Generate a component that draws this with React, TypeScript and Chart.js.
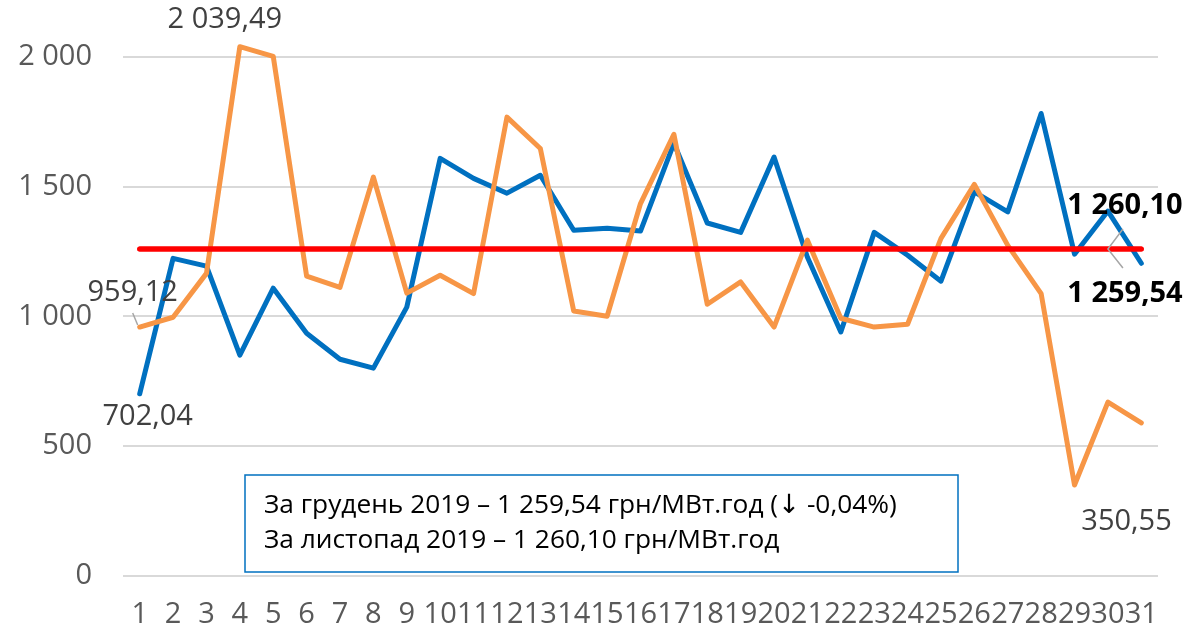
import React, { useEffect, useRef } from "react";
import { Chart, registerables } from "chart.js";

Chart.register(...registerables);

const days = ["1","2","3","4","5","6","7","8","9","10","11","12","13","14","15","16","17","18","19","20","21","22","23","24","25","26","27","28","29","30","31"];

const seriesBlue = [702.04, 1224, 1194, 851, 1109, 935, 835, 801, 1036, 1609, 1532, 1475, 1544, 1332, 1340, 1329, 1667, 1360, 1324, 1614, 1228, 940, 1324, 1236, 1136, 1480, 1403, 1782, 1240, 1406, 1205];

const seriesOrange = [959.12, 997, 1166, 2039.49, 2002, 1155, 1112, 1537, 1090, 1159, 1088, 1768, 1647, 1021, 1001, 1435, 1702, 1047, 1133, 959, 1294, 993, 959, 970, 1301, 1509, 1274, 1088, 350.55, 670, 590];

const avgNovember = [1260.10, 1260.10, 1260.10, 1260.10, 1260.10, 1260.10, 1260.10, 1260.10, 1260.10, 1260.10, 1260.10, 1260.10, 1260.10, 1260.10, 1260.10, 1260.10, 1260.10, 1260.10, 1260.10, 1260.10, 1260.10, 1260.10, 1260.10, 1260.10, 1260.10, 1260.10, 1260.10, 1260.10, 1260.10, 1260.10, 1260.10];

const avgDecember = [1259.54, 1259.54, 1259.54, 1259.54, 1259.54, 1259.54, 1259.54, 1259.54, 1259.54, 1259.54, 1259.54, 1259.54, 1259.54, 1259.54, 1259.54, 1259.54, 1259.54, 1259.54, 1259.54, 1259.54, 1259.54, 1259.54, 1259.54, 1259.54, 1259.54, 1259.54, 1259.54, 1259.54, 1259.54, 1259.54, 1259.54];

const yTicks = [0, 500, 1000, 1500, 2000];

const boxLines = [
  "За грудень 2019 – 1 259,54 грн/МВт.год (↓ -0,04%)",
  "За листопад 2019 – 1 260,10 грн/МВт.год",
];

const FONT = "'Open Sans', 'Noto Sans', 'DejaVu Sans', sans-serif";

function fmt(v: number, decimals: number): string {
  const s = v.toFixed(decimals);
  const [intPart, dec] = s.split(".");
  const withSpaces = intPart.replace(/\B(?=(\d{3})+(?!\d))/g, " ");
  return dec ? withSpaces + "," + dec : withSpaces;
}

const overlayPlugin = {
  id: "overlay",
  afterDatasetsDraw(chart: any) {
    const ctx = chart.ctx;
    const ca = chart.chartArea;
    const red1 = chart.getDatasetMeta(0).data;
    const orange = chart.getDatasetMeta(2).data;
    const blue = chart.getDatasetMeta(3).data;
    ctx.save();

    // leader lines
    ctx.strokeStyle = "#A6A6A6";
    ctx.lineWidth = 1.5;
    const o0 = orange[0];
    ctx.beginPath();
    ctx.moveTo(o0.x - 7, o0.y - 14);
    ctx.lineTo(o0.x - 2, o0.y - 2);
    ctx.stroke();

    const r = red1[29];
    ctx.beginPath();
    ctx.moveTo(r.x + 15, r.y - 20);
    ctx.lineTo(r.x, r.y);
    ctx.lineTo(r.x + 15, r.y + 19);
    ctx.stroke();

    ctx.textAlign = "center";
    ctx.textBaseline = "middle";
    ctx.font = `29px ${FONT}`;
    ctx.fillStyle = "#404040";
    const o3 = orange[3];
    ctx.fillText(fmt(seriesOrange[3], 2), o3.x - 15, o3.y - 27);
    ctx.fillText(fmt(seriesOrange[0], 2), o0.x - 7, o0.y - 34);
    const b0 = blue[0];
    ctx.fillText(fmt(seriesBlue[0], 2), b0.x + 8, b0.y + 23);
    const o28 = orange[28];
    ctx.fillText(fmt(seriesOrange[28], 2), o28.x + 52, o28.y + 37);

    ctx.font = `bold 29px ${FONT}`;
    ctx.fillStyle = "#000000";
    ctx.fillText(fmt(avgNovember[29], 2), r.x + 17, r.y - 43);
    ctx.fillText(fmt(avgDecember[29], 2), r.x + 17, r.y + 45);

    // text box
    const bx = ca.left + 122;
    const bw = 713;
    const by = ca.bottom - 101;
    const bh = 97;
    ctx.fillStyle = "#FFFFFF";
    ctx.fillRect(bx, by, bw, bh);
    ctx.strokeStyle = "#0070C0";
    ctx.lineWidth = 1.5;
    ctx.strokeRect(bx, by, bw, bh);

    ctx.fillStyle = "#000000";
    ctx.textAlign = "left";
    ctx.textBaseline = "alphabetic";
    let size = 24;
    ctx.font = `${size}px ${FONT}`;
    const w = ctx.measureText(boxLines[0]).width;
    size = size * 633 / w;
    ctx.font = `${size}px ${FONT}`;
    ctx.fillText(boxLines[0], bx + 19, by + 38);
    ctx.fillText(boxLines[1], bx + 19, by + 73);
    ctx.restore();
  },
};

export default function App() {
  const canvasRef = useRef<HTMLCanvasElement | null>(null);

  useEffect(() => {
    const canvas = canvasRef.current;
    if (!canvas) return;
    const chart = new Chart(canvas, {
      type: "line",
      data: {
        labels: days,
        datasets: [
          { label: "Листопад середнє", data: avgNovember, borderColor: "#FF0000", borderWidth: 5, pointRadius: 0, borderCapStyle: "round" },
          { label: "Грудень середнє", data: avgDecember, borderColor: "#FF0000", borderWidth: 5, pointRadius: 0, borderCapStyle: "round" },
          { label: "Листопад", data: seriesOrange, borderColor: "#F79646", borderWidth: 5, pointRadius: 0, borderCapStyle: "round", borderJoinStyle: "round" },
          { label: "Грудень", data: seriesBlue, borderColor: "#0070C0", borderWidth: 5, pointRadius: 0, borderCapStyle: "round", borderJoinStyle: "round" },
        ],
      },
      options: {
        animation: false,
        responsive: false,
        maintainAspectRatio: false,
        layout: { padding: { top: 5, right: 33, bottom: 0, left: 0 } },
        plugins: { legend: { display: false }, tooltip: { enabled: false } },
        scales: {
          x: {
            offset: true,
            grid: { display: false, drawTicks: false },
            border: { display: false },
            afterFit: (scale: any) => {
              scale.height = 57;
              scale.paddingLeft = 0;
              scale.paddingRight = 0;
            },
            ticks: {
              autoSkip: false,
              maxRotation: 0,
              minRotation: 0,
              padding: 21,
              color: "#595959",
              font: { family: FONT, size: 29 },
            },
          },
          y: {
            min: 0,
            max: 2200,
            afterBuildTicks: (scale: any) => {
              scale.ticks = yTicks.map((v) => ({ value: v }));
            },
            afterFit: (scale: any) => {
              scale.width = 123;
              scale.paddingTop = 0;
              scale.paddingBottom = 0;
            },
            grid: { color: "#D9D9D9", lineWidth: 2, drawTicks: false },
            border: { display: false },
            ticks: {
              padding: 31,
              color: "#595959",
              font: { family: FONT, size: 29 },
              callback: (v: any) => fmt(Number(v), 0),
            },
          },
        },
      },
      plugins: [overlayPlugin],
    });
    return () => chart.destroy();
  }, []);

  return (
    <div style={{ position: "fixed", left: 0, top: 0, width: 1191, height: 633, background: "#fff" }}>
      <canvas ref={canvasRef} width={1191} height={633} style={{ width: 1191, height: 633, display: "block" }} />
    </div>
  );
}
